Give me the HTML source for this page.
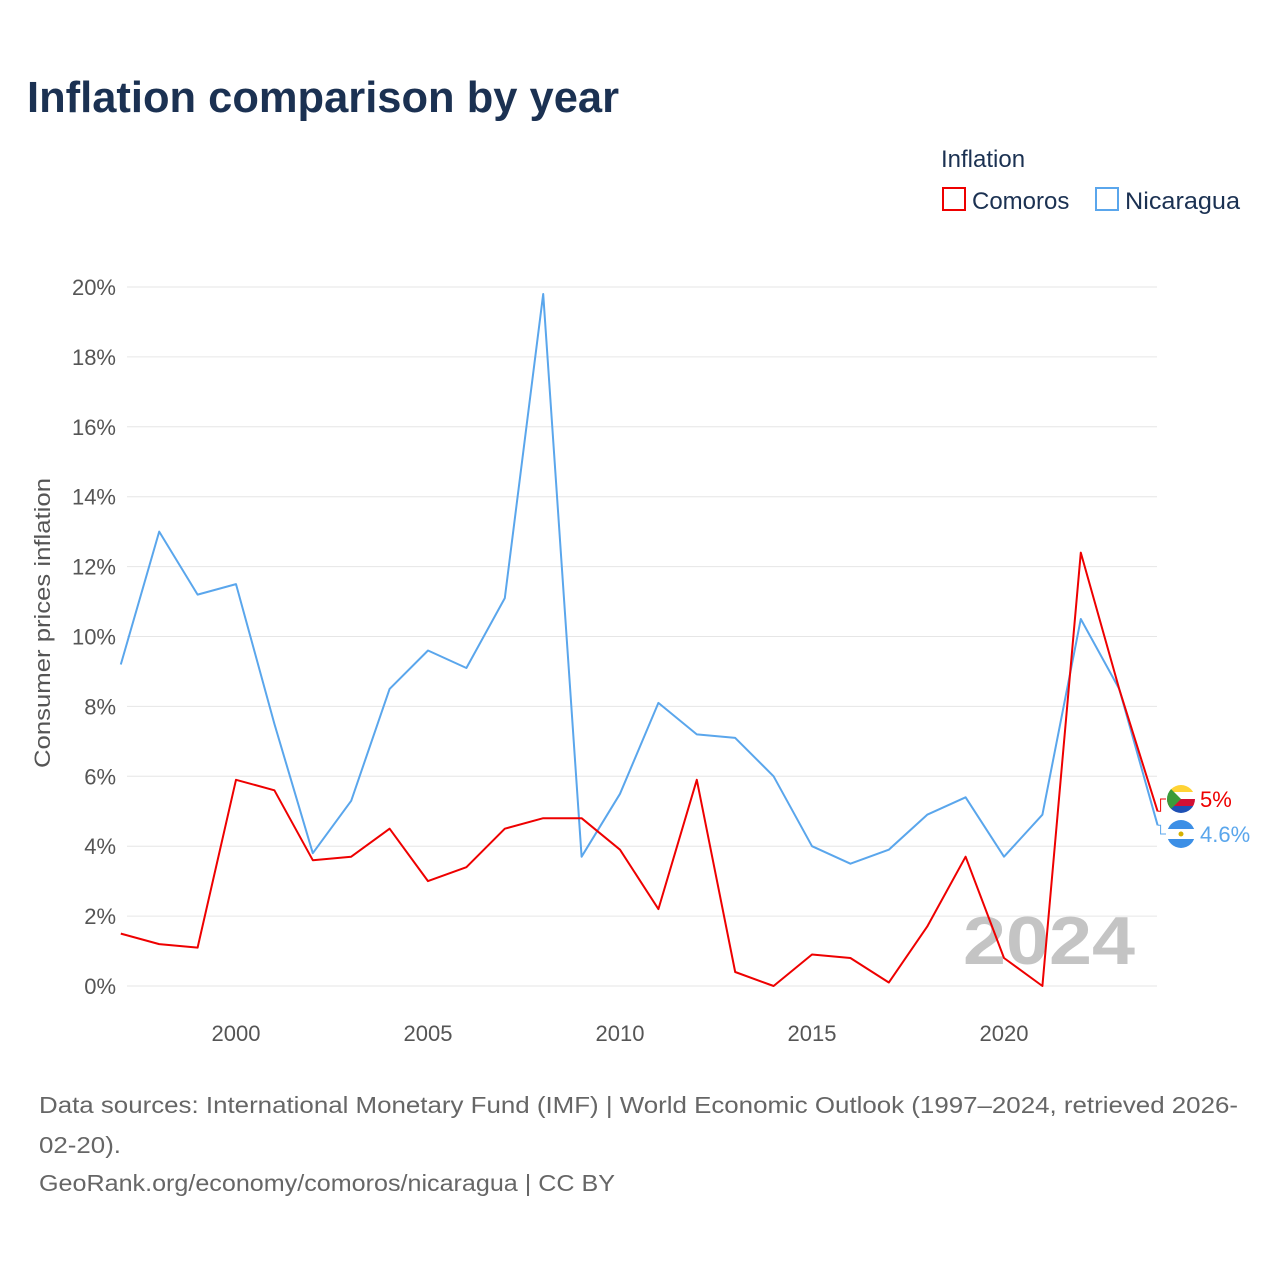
<!DOCTYPE html>
<html><head><meta charset="utf-8">
<style>
body{margin:0;background:#fff;font-family:"Liberation Sans",sans-serif;}
#wrap{position:relative;width:1280px;height:1280px;overflow:hidden;}
</style></head>
<body>
<div id="wrap">
<svg id="chart" width="1280" height="1280">
<text x="27" y="112" font-size="44" font-weight="bold" fill="#1b3152" textLength="592" lengthAdjust="spacingAndGlyphs">Inflation comparison by year</text>
<g>
<text x="941" y="167" font-size="24" fill="#1b3152">Inflation</text>
<g>
<rect x="943" y="188" width="22" height="22" fill="none" stroke="#ee0000" stroke-width="2"/>
<text x="972" y="209" font-size="24" fill="#1b3152">Comoros</text></g>
<g>
<rect x="1096" y="188" width="22" height="22" fill="none" stroke="#5aa6ec" stroke-width="2"/>
<text x="1125" y="209" font-size="24" fill="#1b3152" textLength="115" lengthAdjust="spacingAndGlyphs">Nicaragua</text></g>
</g>
<g id="grid"></g>
<g id="yticks"></g>
<g id="xticks"></g>
<text x="0" y="0" transform="translate(50,623) rotate(-90)" text-anchor="middle" font-size="22" fill="#555" textLength="290" lengthAdjust="spacingAndGlyphs">Consumer prices inflation</text>
<text x="963" y="964" font-size="68" font-weight="bold" fill="#c4c4c4" textLength="172" lengthAdjust="spacingAndGlyphs">2024</text>
<g id="series"></g>
<g id="connectors"></g>
<g>
<g>
<clipPath id="c1"><circle cx="1181" cy="799" r="14"/></clipPath>
<g clip-path="url(#c1)"><rect x="1167" y="785" width="28" height="7" fill="#ffd335"/><rect x="1167" y="792" width="28" height="7" fill="#fff"/><rect x="1167" y="799" width="28" height="7" fill="#d21034"/><rect x="1167" y="806" width="28" height="8" fill="#1e50b4"/><polygon points="1167,785 1181,799 1167,813" fill="#3a9b3a"/></g></g>
<g>
<clipPath id="c2"><circle cx="1181" cy="834" r="14"/></clipPath>
<g clip-path="url(#c2)"><rect x="1167" y="820" width="28" height="9" fill="#3c8fe6"/><rect x="1167" y="829" width="28" height="10" fill="#fff"/><rect x="1167" y="839" width="28" height="9" fill="#3c8fe6"/><circle cx="1181" cy="834" r="2.5" fill="#d4b000"/></g></g>
<text x="1200" y="807" font-size="22" fill="#ee0000">5%</text>
<text x="1200" y="842" font-size="22" fill="#5aa6ec">4.6%</text>
</g>
<g font-size="23" fill="#666">
<text x="39" y="1113" textLength="1199" lengthAdjust="spacingAndGlyphs">Data sources: International Monetary Fund (IMF) | World Economic Outlook (1997–2024, retrieved 2026-</text>
<text x="39" y="1153" textLength="82" lengthAdjust="spacingAndGlyphs">02-20).</text>
<text x="39" y="1191" textLength="576" lengthAdjust="spacingAndGlyphs">GeoRank.org/economy/comoros/nicaragua | CC BY</text>
</g>
</svg>
</div>
<script>
const years=[1997,1998,1999,2000,2001,2002,2003,2004,2005,2006,2007,2008,2009,2010,2011,2012,2013,2014,2015,2016,2017,2018,2019,2020,2021,2022,2023,2024];
const nicaragua=[9.2,13.0,11.2,11.5,7.5,3.8,5.3,8.5,9.6,9.1,11.1,19.8,3.7,5.5,8.1,7.2,7.1,6.0,4.0,3.5,3.9,4.9,5.4,3.7,4.9,10.5,8.5,4.6];
const comoros=[1.5,1.2,1.1,5.9,5.6,3.6,3.7,4.5,3.0,3.4,4.5,4.8,4.8,3.9,2.2,5.9,0.4,0.0,0.9,0.8,0.1,1.7,3.7,0.8,0.0,12.4,8.5,5.0];
const yTicks=[0,2,4,6,8,10,12,14,16,18,20];
const xTicks=[2000,2005,2010,2015,2020];
const NS="http://www.w3.org/2000/svg";
function xs(y){return 120.8+(y-1997)*(1157.6-120.8)/27;}
function ys(v){return 986-v*(986-287)/20;}
function mk(tag,attrs,parent){const e=document.createElementNS(NS,tag);for(const k in attrs)e.setAttribute(k,attrs[k]);parent.appendChild(e);return e;}
const grid=document.getElementById('grid'),yt=document.getElementById('yticks'),xt=document.getElementById('xticks'),ser=document.getElementById('series'),con=document.getElementById('connectors');
yTicks.forEach(v=>{
  const l=mk('line',{x1:127,x2:1157,y1:ys(v),y2:ys(v),stroke:'#e6e6e6','stroke-width':1},grid);
  
  
  const t=mk('text',{x:116,y:ys(v)+8,'text-anchor':'end','font-size':22,fill:'#555'},yt);
  t.textContent=v+'%';
  
  
});
xTicks.forEach(v=>{
  const t=mk('text',{x:xs(v),y:1041,'text-anchor':'middle','font-size':22,fill:'#555'},xt);
  t.textContent=v;
  
  
});
function line(vals,color,name){
  const d=vals.map((v,i)=>(i?'L':'M')+xs(years[i]).toFixed(1)+','+ys(v).toFixed(1)).join(' ');
  const p=mk('path',{d:d,fill:'none',stroke:color,'stroke-width':2,'stroke-linejoin':'round'},ser);
  
  
}
line(nicaragua,'#5aa6ec','nicaragua-line');
line(comoros,'#ee0000','comoros-line');
function connector(v,labelY,color,name){
  const x0=xs(years[years.length-1]);
  const p=mk('path',{d:'M'+x0+','+ys(v)+' L'+(x0+3)+','+ys(v)+' L'+(x0+3)+','+labelY+' L1166,'+labelY,fill:'none',stroke:color,'stroke-width':1},con);
  
  
}
connector(comoros[comoros.length-1],799,'#ee0000','comoros-connector');
connector(nicaragua[nicaragua.length-1],834,'#5aa6ec','nicaragua-connector');
</script>
</body></html>
